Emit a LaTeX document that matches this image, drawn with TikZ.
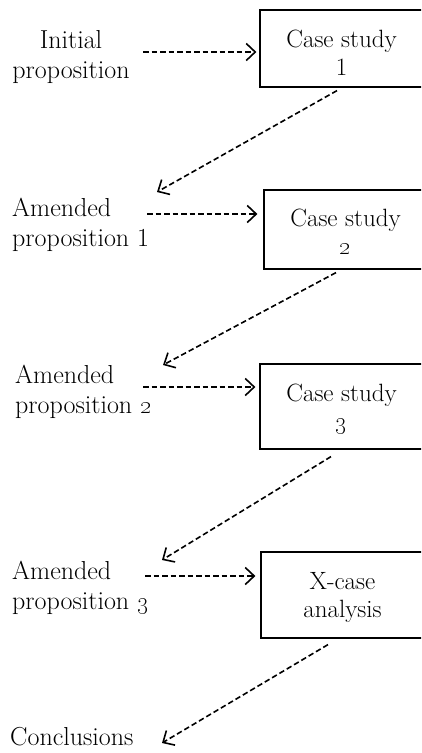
\documentclass[tikz,border=0pt]{standalone}
\usetikzlibrary{arrows.meta}
\begin{document}
\begin{tikzpicture}[x=1pt,y=-1pt,
  box/.style={draw,line width=1.2pt,minimum width=163pt,inner sep=0pt,align=center,font=\fontsize{25}{28}\selectfont},
  lbl/.style={inner sep=0pt,font=\fontsize{26}{29.5}\selectfont},
  flow/.style={dash pattern=on 5.5pt off 3pt,line width=1.6pt,-{Straight Barb[length=9pt,width=17pt,line width=1.6pt]}}]
\clip (0,0) rectangle (421,753);
% boxes
\node[box,minimum height=77pt] (b1) at (341.5,48.5) {\rule{0pt}{25pt}Case study\\1};
\node[box,minimum height=79pt] (b2) at (345.5,229.5) {\rule{0pt}{22pt}Case study\\\oldstylenums{2}};
\node[box,minimum height=85pt] (b3) at (341.5,406.5) {\rule{0pt}{22pt}Case study\\\oldstylenums{3}};
\node[box,minimum height=86pt] (b4) at (342.5,595) {\rule{0pt}{22pt}X-case\\analysis};
% labels
\node[lbl,align=center] (p0) at (71,57) {Initial\\proposition};
\node[lbl,align=left,anchor=west] (p1) at (12,225) {Amended\\proposition 1};
\node[lbl,align=left,anchor=west] (p2) at (15,392) {Amended\\proposition \oldstylenums{2}};
\node[lbl,align=left,anchor=west] (p3) at (12,588) {Amended\\proposition \oldstylenums{3}};
\node[lbl,anchor=west] (c) at (10,737) {Conclusions};
% arrow coordinates
\coordinate (s0) at (143,52);
\coordinate (s1) at (147,214);
\coordinate (s2) at (143,387);
\coordinate (s3) at (145,576);
\coordinate (e1) at (157,192);
\coordinate (e2) at (163,365);
\coordinate (e3) at (162,560);
\coordinate (e4) at (162,743);
% horizontal connectors
\draw[flow] (s0) -- ([xshift=-3pt]b1.west |- s0);
\draw[flow] (s1) -- ([xshift=-6pt]b2.west |- s1);
\draw[flow] (s2) -- ([xshift=-4pt]b3.west |- s2);
\draw[flow] (s3) -- ([xshift=-5pt]b4.west |- s3);
% diagonal connectors
\draw[flow] ([xshift=-4.5pt,yshift=-3pt]b1.south) -- (e1);
\draw[flow] ([xshift=-9.5pt,yshift=-3pt]b2.south) -- (e2);
\draw[flow] ([xshift=-10.5pt,yshift=-7pt]b3.south) -- (e3);
\draw[flow] ([xshift=-14.5pt,yshift=-6pt]b4.south) -- (e4);
\end{tikzpicture}
\end{document}
